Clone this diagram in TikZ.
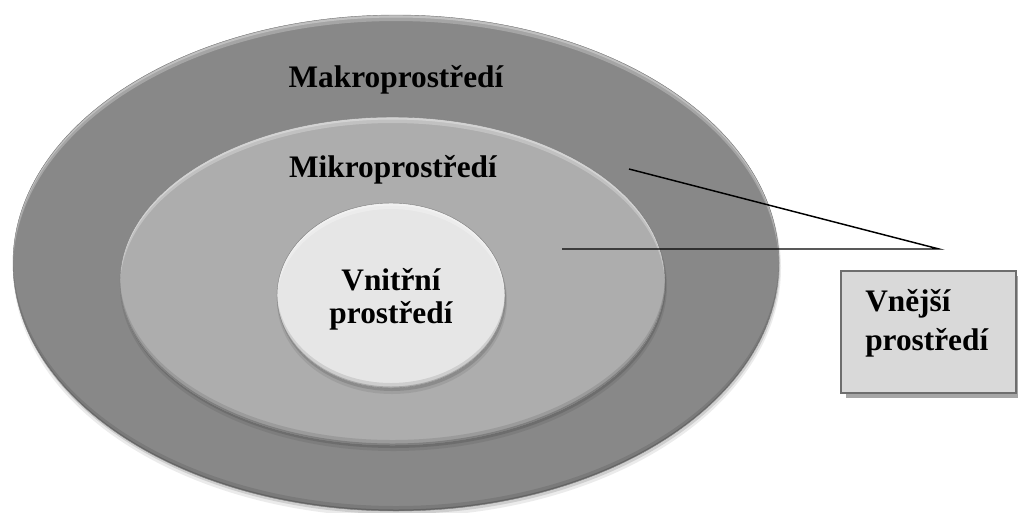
\documentclass[tikz,border=0pt]{standalone}
\usepackage{fontspec}
\setmainfont{Liberation Serif}
\begin{document}
\begin{tikzpicture}[x=0.75pt,y=-0.75pt,
  lbl/.style={font=\fontsize{23.5}{28}\selectfont\bfseries, inner sep=0pt, anchor=base},
  leader/.style={draw=black, line width=1.1pt},
  boxframe/.style={draw=black!57, line width=2pt, fill=black!15},
]
\definecolor{ringout}{HTML}{888888}
\definecolor{ringmid}{HTML}{ADADAD}
\definecolor{ringin}{HTML}{E6E6E6}
% ring with a soft drop shadow and a bevelled rim: centre x, centre y, x radius, y radius, fill
\newcommand\bevelring[5]{%
  \fill[black,opacity=0.08] (#1+1,#2+5) ellipse [x radius=#3+1, y radius=#4+1];
  \fill[black,opacity=0.12] (#1+1,#2+3) ellipse [x radius=#3, y radius=#4];
  \fill[#5] (#1,#2) ellipse [x radius=#3, y radius=#4];
  \begin{scope}
    \clip (#1,#2) ellipse [x radius=#3, y radius=#4];
    \fill[white,opacity=0.30,even odd rule] (#1,#2) ellipse [x radius=#3, y radius=#4]
         (#1,#2+2.5) ellipse [x radius=#3, y radius=#4];
    \fill[white,opacity=0.25,even odd rule] (#1,#2) ellipse [x radius=#3, y radius=#4]
         (#1,#2+6) ellipse [x radius=#3, y radius=#4];
    \fill[black,opacity=0.10,even odd rule] (#1,#2) ellipse [x radius=#3, y radius=#4]
         (#1,#2-5) ellipse [x radius=#3, y radius=#4];
    \fill[black,opacity=0.18,even odd rule] (#1,#2) ellipse [x radius=#3, y radius=#4]
         (#1,#2-1.5) ellipse [x radius=#3, y radius=#4];
  \end{scope}
  \draw[black!50,line width=0.3pt] (#1,#2) ellipse [x radius=#3, y radius=#4];
}
\useasboundingbox (0,0) rectangle (1018,512);

% nested environments
\bevelring{396}{263}{383}{248}{ringout}
\bevelring{392.5}{281}{272.5}{164}{ringmid}
\bevelring{391}{295.5}{114}{92.5}{ringin}

\node[lbl] (makro) at (396,87) {Makroprostředí};
\node[lbl] (mikro) at (393,177) {Mikroprostředí};
\node[lbl] (vnitr1) at (391,290) {Vnitřní};
\node[lbl] (vnitr2) at (391,323) {prostředí};

% outer environment box with its shadow
\fill[black!35] (846,276) rectangle (1021,398);
\node[boxframe, minimum width=131.25pt, minimum height=91.5pt, inner sep=0pt] (vnejsi) at (928.5,332) {};
\node[lbl, anchor=base west] (vnejsi1) at (865,311) {Vnější};
\node[lbl, anchor=base west] (vnejsi2) at (865,350) {prostředí};

% leader lines
\coordinate (apex) at (939,249);
\coordinate (frommakro) at (629,169);
\coordinate (frommikro) at (562,249);
\draw[leader] (frommakro) -- (apex) -- (frommikro);
\end{tikzpicture}
\end{document}
